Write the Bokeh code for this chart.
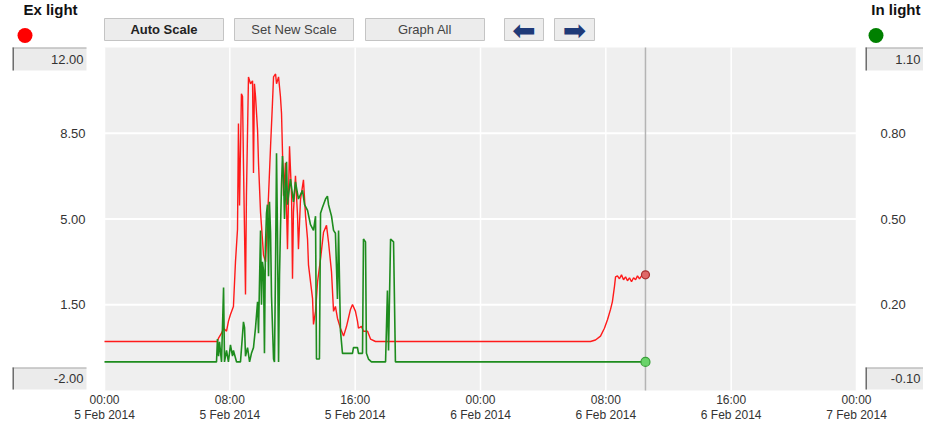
from bokeh.plotting import figure
from bokeh.models import Range1d
from bokeh.core.properties import value
from bokeh.embed import file_html
from bokeh.resources import INLINE

# ---------------- data ----------------
start_date = "2014-02-05 00:00"   # hours below are counted from here
tick_hours = [0, 8, 16, 24, 32, 40, 48]
tick_labels = ["00:00\n5 Feb 2014", "08:00\n5 Feb 2014", "16:00\n5 Feb 2014",
               "00:00\n6 Feb 2014", "08:00\n6 Feb 2014", "16:00\n6 Feb 2014",
               "00:00\n7 Feb 2014"]

left_ticks = [1.5, 5.0, 8.5]
left_tick_labels = ["1.50", "5.00", "8.50"]
right_ticks = [0.2, 0.5, 0.8]
right_tick_labels = ["0.20", "0.50", "0.80"]
left_range = (-2.0, 12.0)
right_range = (-0.1, 1.1)
left_range_labels = ("-2.00", "12.00")
right_range_labels = ("-0.10", "1.10")

red_name = "Ex light"
green_name = "In light"

red_hours = [0.0, 7.21, 7.28, 7.47, 7.6, 7.79, 7.91, 8.04, 8.23, 8.36, 8.49, 8.55,
             8.62, 8.74, 8.81, 8.87, 9.0, 9.06, 9.19, 9.32, 9.45, 9.51, 9.57, 9.64,
             9.77, 9.83, 9.96, 10.15, 10.28, 10.47, 10.6, 10.72, 10.79, 10.92, 10.98,
             11.11, 11.23, 11.3, 11.43, 11.55, 11.68, 11.81, 11.94, 12.0, 12.06, 12.19,
             12.32, 12.38, 12.51, 12.7, 12.83, 12.96, 13.02, 13.28, 13.34, 13.47, 13.6,
             13.79, 13.98, 14.17, 14.3, 14.49, 14.62, 14.74, 14.87, 15.06, 15.26, 15.45,
             15.57, 15.7, 15.83, 16.02, 16.15, 16.21, 16.4, 16.53, 16.79, 16.98, 17.3,
             31.02, 31.34, 31.66, 31.91, 32.11, 32.3, 32.42, 32.55, 32.62, 32.74, 32.87,
             33.0, 33.13, 33.26, 33.38, 33.51, 33.64, 33.77, 33.9, 34.02, 34.15, 34.28,
             34.4, 34.53]
red_values = [0.0, 0.0, 0.14, 0.34, 0.54, 0.42, 0.82, 1.1, 1.43, 3.25, 4.58, 8.9,
              5.55, 10.11, 10.0, 7.29, 1.92, 5.95, 10.8, 10.52, 10.64, 6.88, 10.52, 10.0,
              8.62, 7.29, 5.27, 3.53, 3.25, 5.95, 7.97, 9.71, 10.8, 10.92, 10.52,
              10.8, 10.0, 9.3, 5.95, 7.29, 3.77, 7.97, 5.95, 2.56, 5.27, 6.76,
              5.15, 3.77, 5.79, 6.6, 5.15, 4.18, 3.13, 1.75, 0.7, 1.23, 2.44,
              3.37, 4.46, 4.74, 4.05, 2.84, 1.23, 1.43, 0.95, 0.54, 0.22, 0.62,
              0.95, 1.31, 1.51, 1.23, 0.82, 0.54, 0.62, 0.42, 0.42, 0.1, 0.0,
              0.0, 0.06, 0.22, 0.54, 0.9, 1.31, 1.63, 2.24, 2.64, 2.68, 2.56,
              2.72, 2.52, 2.64, 2.48, 2.6, 2.44, 2.6, 2.52, 2.68, 2.56, 2.68,
              2.76, 2.72]

green_hours = [0.0, 7.15, 7.21, 7.28, 7.34, 7.47, 7.6, 7.66, 7.79, 7.91, 8.04, 8.17,
               8.23, 8.43, 8.68, 8.87, 8.94, 9.0, 9.13, 9.26, 9.38, 9.51, 9.64, 9.77,
               9.83, 9.96, 10.02, 10.08, 10.15, 10.21, 10.27, 10.34, 10.4, 10.47, 10.53,
               10.6, 10.66, 10.79, 10.85, 10.92, 10.98, 11.04, 11.11, 11.17, 11.23, 11.3,
               11.36, 11.43, 11.49, 11.62, 11.68, 11.74, 11.87, 12.06, 12.19, 12.38,
               12.64, 12.77, 12.96, 13.15, 13.34, 13.47, 13.53, 13.72, 13.79, 13.91,
               14.11, 14.23, 14.3, 14.49, 14.62, 14.74, 14.87, 14.94, 15.06, 15.19,
               15.83, 15.89, 16.15, 16.21, 16.47, 16.53, 16.66, 16.72, 16.85, 17.04,
               17.94, 18.06, 18.13, 18.26, 18.45, 18.57, 34.53]
green_values = [0.0, 0.0, 0.08, 0.02, 0.07, 0.0, 0.26, 0.0, 0.04, 0.0, 0.06, 0.02,
                0.04, 0.0, 0.0, 0.14, 0.12, 0.02, 0.05, 0.0, 0.03, 0.05, 0.12, 0.21,
                0.1, 0.46, 0.2, 0.35, 0.32, 0.03, 0.4, 0.52, 0.55, 0.3, 0.56,
                0.45, 0.23, 0.01, 0.0, 0.35, 0.73, 0.46, 0.0, 0.3, 0.46, 0.62,
                0.72, 0.64, 0.5, 0.7, 0.55, 0.58, 0.64, 0.56, 0.63, 0.57,
                0.6, 0.55, 0.53, 0.48, 0.46, 0.51, 0.01, 0.01, 0.52, 0.54,
                0.57, 0.58, 0.55, 0.51, 0.46, 0.45, 0.22, 0.46, 0.11, 0.03,
                0.03, 0.05, 0.05, 0.03, 0.03, 0.43, 0.42, 0.03, 0.01, 0.0,
                0.0, 0.25, 0.04, 0.43, 0.42, 0.0, 0.0]

buttons = ["Auto Scale", "Set New Scale", "Graph All"]
arrows = ["\u2B05", "\u27A1"]

# ---------------- layout (canvas pixels, y down) ----------------
W, H = 923, 423
FL, FT, FW, FH = 104, 47, 752, 343      # plot area
FR, FB = FL + FW, FT + FH
FONT = "Liberation Sans"

t0, t1 = tick_hours[0], tick_hours[-1]
lspan = left_range[1] - left_range[0]
rspan = right_range[1] - right_range[0]

p = figure(width=W, height=H, x_range=Range1d(0, W), y_range=Range1d(H, 0),
           x_axis_location=None, y_axis_location=None,
           output_backend="svg", toolbar_location=None,
           background_fill_color="white", border_fill_color="white",
           outline_line_color=None, min_border=0)
p.grid.visible = False
# data scales laid over the plot area
p.extra_x_ranges = {"t": Range1d(t0 - FL * (t1 - t0) / FW,
                                 t1 + (W - FR) * (t1 - t0) / FW)}
p.extra_y_ranges = {
    "ex": Range1d(left_range[1] - (H - FT) * lspan / FH, left_range[1] + FT * lspan / FH),
    "in": Range1d(right_range[1] - (H - FT) * rspan / FH, right_range[1] + FT * rspan / FH),
}

def txt(x, y, s, size="12px", align="center", baseline="middle", bold=False,
        color="#333333", font=FONT, xr="default", yr="default", lh=1.2):
    xs = x if isinstance(x, list) else [x]
    ys = y if isinstance(y, list) else [y]
    ss = s if isinstance(s, list) else [s]
    p.text(x=xs, y=ys, text=ss, x_range_name=xr, y_range_name=yr,
           text_align=align, text_baseline=baseline, text_font=value(font),
           text_font_size=value(size), text_color=color, text_line_height=lh,
           text_font_style="bold" if bold else "normal")

# plot area background and grid
p.quad(left=[t0], right=[t1], bottom=[left_range[0]], top=[left_range[1]],
       x_range_name="t", y_range_name="ex", fill_color="#efefef", line_color=None)
p.segment(x0=tick_hours, x1=tick_hours, y0=[left_range[0]] * len(tick_hours),
          y1=[left_range[1]] * len(tick_hours), x_range_name="t", y_range_name="ex",
          line_color="white", line_width=1.5)
p.segment(x0=[t0] * 3, x1=[t1] * 3, y0=left_ticks, y1=left_ticks,
          x_range_name="t", y_range_name="ex", line_color="white", line_width=2)
# current-time line
p.segment(x0=[red_hours[-1]], x1=[red_hours[-1]], y0=[left_range[0]], y1=[left_range[1]],
          x_range_name="t", y_range_name="ex", line_color="#b4b4b4", line_width=1.5)

# series
p.line(red_hours, red_values, x_range_name="t", y_range_name="ex",
       line_color="#ff1a1a", line_width=1.4)
p.line(green_hours, green_values, x_range_name="t", y_range_name="in",
       line_color="#1e8c1e", line_width=1.6)
p.scatter([red_hours[-1]], [red_values[-1]], x_range_name="t", y_range_name="ex", size=8,
          fill_color="#e06868", line_color="#a83030", line_width=1.2)
p.scatter([green_hours[-1]], [green_values[-1]], x_range_name="t", y_range_name="in", size=9,
          fill_color="#6ad36a", line_color="#3aa03a", line_width=1.2)

# tick labels
txt(tick_hours, [FB + 2] * len(tick_hours), tick_labels, baseline="top",
    xr="t", lh=1.1)
txt([FL - 19] * 3, left_ticks, left_tick_labels, size="13px", align="right", yr="ex")
txt([FR + 24] * 3, right_ticks, right_tick_labels, size="13px", align="left", yr="in")

# end-of-scale boxes
def inset_box(l, t, r, b):
    p.quad(left=[l], right=[r], top=[t], bottom=[b], fill_color="#ebebeb", line_color=None)
    p.segment(x0=[l], x1=[r], y0=[t + 0.5], y1=[t + 0.5], line_color="#a8a8a8", line_width=1)
    p.segment(x0=[l + 0.75], x1=[l + 0.75], y0=[t], y1=[b], line_color="#6e6e6e", line_width=1.5)

for (l, r, t, b, s) in [(12, 86, FT, FT + 23, left_range_labels[1]),
                        (12, 86, FB - 23, FB - 1, left_range_labels[0])]:
    inset_box(l, t, r, b)
    txt(r - 3, (t + b) / 2, s, size="13px", align="right")
for (l, r, t, b, s) in [(865, 930, FT, FT + 23, right_range_labels[1]),
                        (865, 930, FB - 23, FB - 1, right_range_labels[0])]:
    inset_box(l, t, r, b)
    txt(920, (t + b) / 2, s, size="13px", align="right")

# series titles and dots
txt(50, 9, red_name, size="15px", bold=True, color="#111111")
txt(920, 9, green_name, size="15px", bold=True, color="#111111", align="right")
p.scatter([24.5], [35], size=15, fill_color="#ff0000", line_color=None)
p.scatter([875.5], [35], size=15, fill_color="#008000", line_color=None)

# buttons
btn_pos = [(104, 223), (234, 353), (365, 484)]
BT, BB = 18, 40
for i, ((l, r), s) in enumerate(zip(btn_pos, buttons)):
    p.quad(left=[l], right=[r], top=[BT], bottom=[BB], fill_color="#ececec",
           line_color="#c4c4c4", line_width=1)
    txt((l + r) / 2, (BT + BB) / 2, s, size="13px", bold=(i == 0),
        color="#222222" if i == 0 else "#444444")
for (l, r), s in zip([(504, 543), (554, 594)], arrows):
    p.quad(left=[l], right=[r], top=[BT], bottom=[BB], fill_color="#ececec",
           line_color="#c4c4c4", line_width=1)
    txt((l + r) / 2, (BT + BB) / 2 + 1, s, size="28px", color="#1f3a78", font="DejaVu Sans")

open("out.html", "w").write(file_html(p, INLINE))
